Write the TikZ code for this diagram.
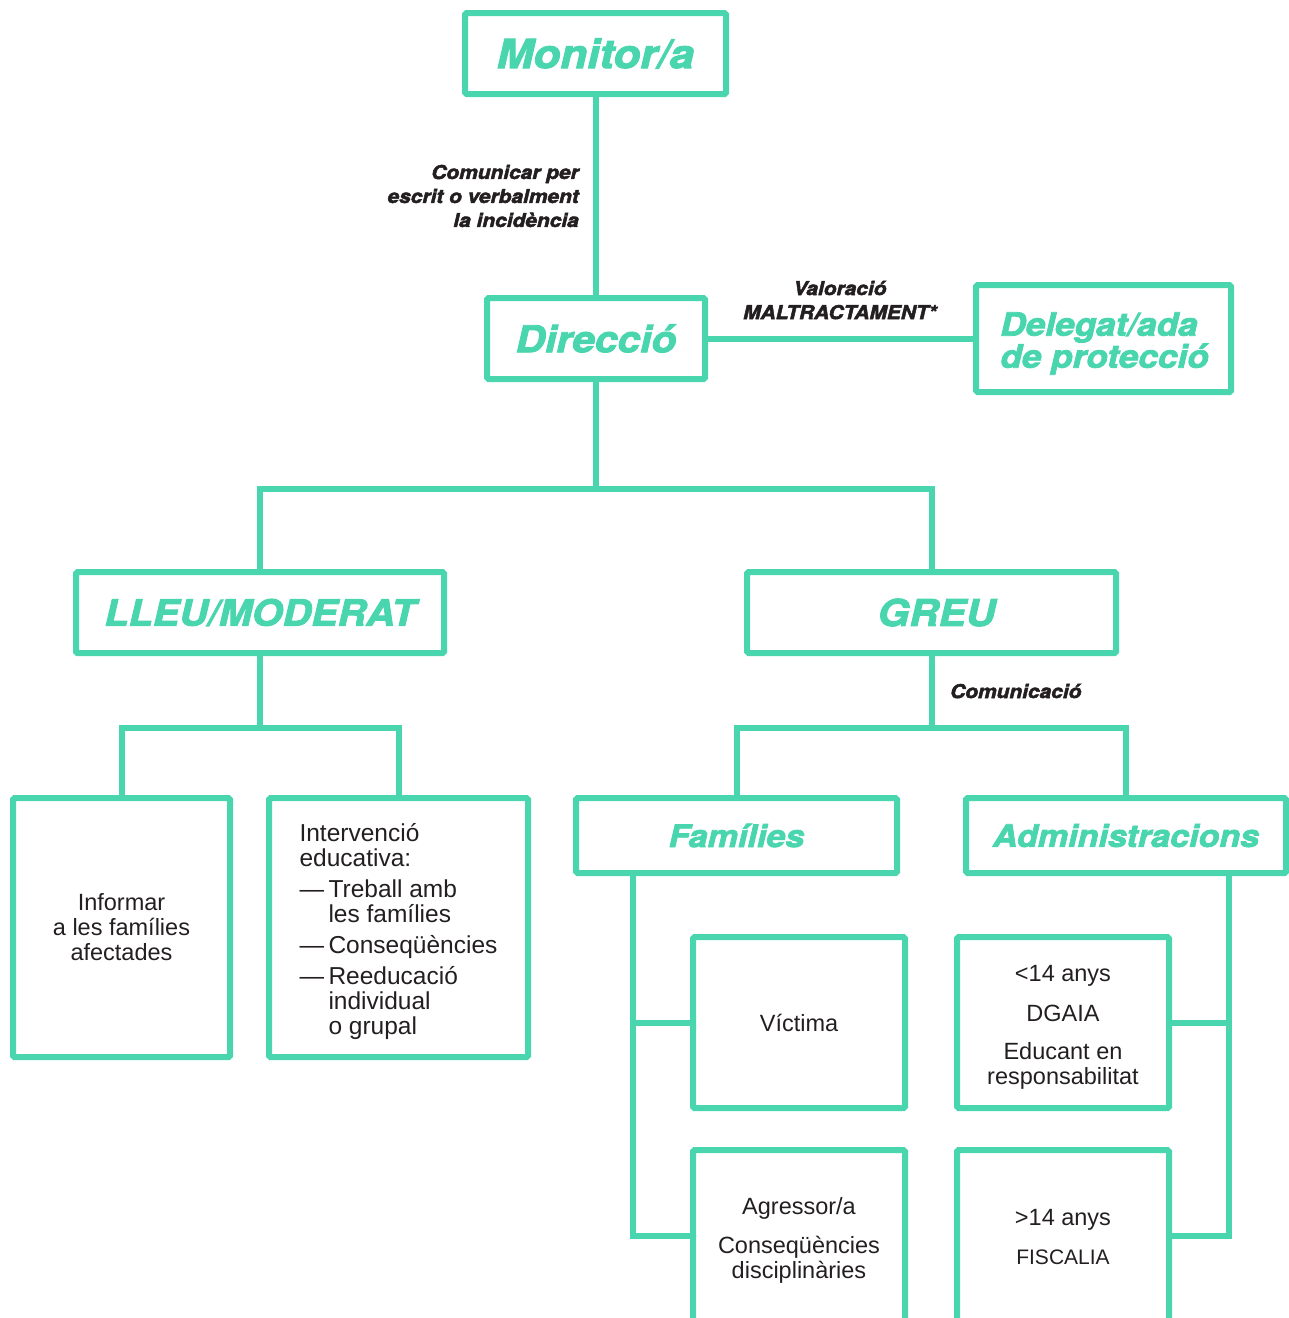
\documentclass[tikz,border=0pt]{standalone}
\usepackage{fontspec}
\setmainfont{Liberation Sans}
\newfontfamily\heavy{TeX Gyre Heros}[BoldItalicFeatures={FakeBold=2.5,FakeStretch=1.1}]
\newcommand{\HvFont}[2]{\heavy\bfseries\itshape\fontsize{#1}{#2}\selectfont}
\newcommand{\BdFont}[2]{\fontsize{#1}{#2}\selectfont}
\definecolor{gr}{RGB}{73,213,173}
\definecolor{ink}{RGB}{35,31,32}
\tikzset{
  box/.style={draw=gr, line width=6pt, rounded corners=1.5pt, inner sep=0pt, anchor=center},
  link/.style={draw=gr, line width=6pt},
  ttl/.style={text=gr},
  lbl/.style={text=ink, inner sep=0pt, font=\HvFont{19}{24}},
  body/.style={text=ink, inner sep=0pt, font=\BdFont{23.5}{25}}
}
\begin{document}
\begin{tikzpicture}[x=1pt,y=-1pt]
\useasboundingbox (0,0) rectangle (1289,1318);
\clip (0,0) rectangle (1289,1318);

% boxes
\node[box, ttl, minimum width=261pt, minimum height=81pt, font=\HvFont{40}{44}] (mon) at (595.5,53.5) {Monitor/a};
\node[box, ttl, minimum width=218pt, minimum height=81pt, font=\HvFont{37}{40}] (dir) at (596,338.5) {Direcció};
\node[box, minimum width=255pt, minimum height=107pt] (del) at (1103.5,338.5) {};
\node[ttl, inner sep=0pt, align=left, font=\HvFont{32}{30}] (deltx) at (1104.5,343.5) {Delegat/ada\\de protecció};
\node[box, ttl, minimum width=368pt, minimum height=81pt, font=\HvFont{36}{40}] (lleu) at (260,612.5) {\raisebox{-2pt}{LLEU/MODERAT}};
\node[box, ttl, minimum width=369pt, minimum height=81pt, font=\HvFont{37}{40}] (greu) at (931.5,612.5) {\hspace*{10pt}\raisebox{-2pt}{GREU}};

\node[box, body, minimum width=217pt, minimum height=259pt, align=center] (inf) at (121.5,927.5) {Informar\\a les famílies\\afectades};
\node[box, minimum width=259pt, minimum height=259pt] (int) at (398.5,927.5) {};
\node[body, font=\BdFont{24.5}{25}, align=left] (inttx) at (398.5,931.5)
  {Intervenció\\educativa:\\[6pt]\makebox[29pt][l]{—}Treball amb\\\hspace*{29pt}les famílies\\[6pt]\makebox[29pt][l]{—}Conseqüències\\[6pt]\makebox[29pt][l]{—}Reeducació\\\hspace*{29pt}individual\\\hspace*{29pt}o grupal};

\node[box, ttl, minimum width=321pt, minimum height=75pt, font=\HvFont{31}{34}] (fam) at (736.5,835.5) {Famílies};
\node[box, ttl, minimum width=320pt, minimum height=75pt, font=\HvFont{31}{34}] (adm) at (1126,835.5) {Administracions};

\node[box, body, minimum width=212pt, minimum height=171pt] (vic) at (799,1022.5) {Víctima};
\node[box, minimum width=212pt, minimum height=171pt] (lt) at (1063,1022.5) {};
\node[body, align=center] (lttx) at (1063,1027) {<14 anys\\[15pt]DGAIA\\[13pt]Educant en\\responsabilitat};
\node[box, minimum width=212pt, minimum height=250pt] (agr) at (799,1275) {};
\node[box, minimum width=212pt, minimum height=250pt] (gt) at (1063,1275) {};
\node[body, align=center] (agrtx) at (799,1240) {Agressor/a\\[14pt]Conseqüències\\disciplinàries};
\node[body, align=center] (gttx) at (1063,1237) {>14 anys\\[14pt]{\BdFont{21}{25}FISCALIA}};

% labels
\node[lbl, anchor=east, align=right] (l1) at (579,196) {Comunicar per\\escrit o verbalment\\la incidència};
\node[lbl, align=center] (l2) at (840,300) {Valoració\\MALTRACTAMENT*};
\node[lbl, anchor=west] (l3) at (950,691) {Comunicació};

% coordinates
\coordinate (f1) at (596,489);
\coordinate (f2) at (260,728);
\coordinate (f3) at (931.5,728);
\coordinate (famT) at (633,873);
\coordinate (agrW) at (693,1236);
\coordinate (admT) at (1229,873);
\coordinate (gtE) at (1169,1236);

% connectors
\draw[link] (mon.south) -- (mon.south |- dir.north);
\draw[link] (dir.east) -- (del.west);
\draw[link] (dir.south) -- (f1);
\draw[link] (lleu.north) |- (f1) -| (greu.north);
\draw[link] (lleu.south) -- (f2);
\draw[link] (inf.north) |- (f2) -| (int.north);
\draw[link] (greu.south) -- (f3);
\draw[link] (fam.north) |- (f3) -| (adm.north);
\draw[link] (famT) |- (vic.west);
\draw[link] (famT) |- (agrW);
\draw[link] (admT) |- (lt.east);
\draw[link] (admT) |- (gtE);
\end{tikzpicture}
\end{document}
